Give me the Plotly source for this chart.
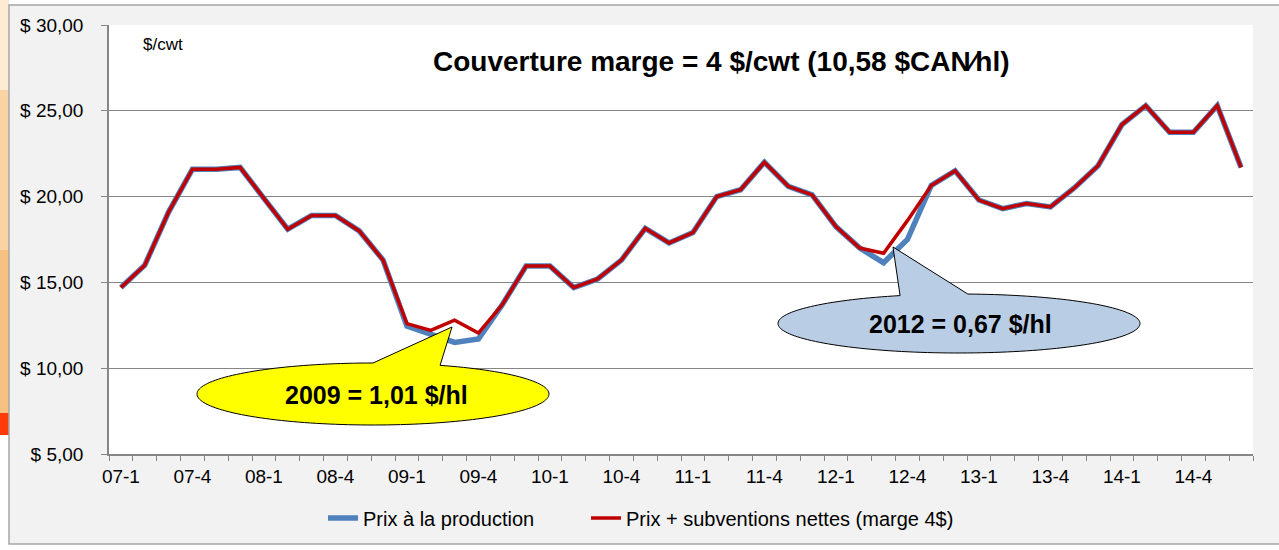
import numpy as np
import plotly.graph_objects as go

# ---------------- data ----------------
categories = [
    "07-1", "07-2", "07-3", "07-4", "07-5", "07-6",
    "08-1", "08-2", "08-3", "08-4", "08-5", "08-6",
    "09-1", "09-2", "09-3", "09-4", "09-5", "09-6",
    "10-1", "10-2", "10-3", "10-4", "10-5", "10-6",
    "11-1", "11-2", "11-3", "11-4", "11-5", "11-6",
    "12-1", "12-2", "12-3", "12-4", "12-5", "12-6",
    "13-1", "13-2", "13-3", "13-4", "13-5", "13-6",
    "14-1", "14-2", "14-3", "14-4", "14-5", "14-6",
]
prix_production = [
    14.7, 16.0, 19.1, 21.6, 21.6, 21.7,
    19.9, 18.1, 18.9, 18.9, 18.0, 16.3,
    12.45, 11.95, 11.5, 11.7, 13.7, 15.95,
    15.95, 14.7, 15.2, 16.3, 18.15, 17.3,
    17.9, 20.0, 20.4, 22.0, 20.6, 20.1,
    18.25, 17.0, 16.15, 17.5, 20.65, 21.5,
    19.8, 19.3, 19.6, 19.4, 20.5, 21.8,
    24.2, 25.3, 23.75, 23.75, 25.3, 21.7,
]
prix_subventions = [
    14.7, 16.0, 19.1, 21.6, 21.6, 21.7,
    19.9, 18.1, 18.9, 18.9, 18.0, 16.3,
    12.6, 12.2, 12.8, 12.05, 13.7, 15.95,
    15.95, 14.7, 15.2, 16.3, 18.15, 17.3,
    17.9, 20.0, 20.4, 22.0, 20.6, 20.1,
    18.25, 17.0, 16.7, 18.6, 20.65, 21.5,
    19.8, 19.3, 19.6, 19.4, 20.5, 21.8,
    24.2, 25.3, 23.75, 23.75, 25.3, 21.7,
]
series_names = ["Prix à la production", "Prix + subventions nettes (marge 4$)"]
y_tick_values = [5, 10, 15, 20, 25, 30]
y_tick_labels = ["$ 5,00", "$ 10,00", "$ 15,00", "$ 20,00", "$ 25,00", "$ 30,00"]
x_tick_labels = [c if i % 3 == 0 else "" for i, c in enumerate(categories)]
title_text = "Couverture marge = 4 $/cwt (10,58 $CAN\u2044hl)"
unit_text = "$/cwt"
callout_2009 = "2009 = 1,01 $/hl"
callout_2012 = "2012 = 0,67 $/hl"

# ---------------- layout helpers ----------------
FONT = "Liberation Sans, Arial, sans-serif"
W, H = 1279, 550
L, R, T, B = 109, 26, 25, 96
PW = W - L - R
PH = H - T - B


def xp(px):
    return (px - L) / PW


def yp(py):
    return (H - B - py) / PH


def callout_path(cx, cy, rx, ry, th1, th2, tip, n=160):
    angles = np.linspace(th2, th1 + 360, n)
    pts = [(cx + rx * np.cos(np.radians(a)), cy + ry * np.sin(np.radians(a))) for a in angles]
    pts.append(tip)
    return "M " + " L ".join(f"{xp(x):.5f},{yp(y):.5f}" for x, y in pts) + " Z"


GRAY = "#868686"

fig = go.Figure()
fig.add_trace(go.Scatter(
    x=categories, y=prix_production, name=series_names[0], mode="lines",
    line=dict(color="#4F81BD", width=5.5), legend="legend",
))
fig.add_trace(go.Scatter(
    x=categories, y=prix_subventions, name=series_names[1], mode="lines",
    line=dict(color="#C00000", width=3.5), legend="legend2",
))

shapes = [
    # slide background strip on the left
    dict(type="rect", xref="paper", yref="paper", x0=xp(0), x1=xp(9), y0=yp(0), y1=yp(90),
         fillcolor="#FDEBD3", line=dict(width=0), layer="below"),
    dict(type="rect", xref="paper", yref="paper", x0=xp(0), x1=xp(9), y0=yp(90), y1=yp(250),
         fillcolor="#F9D3A3", line=dict(width=0), layer="below"),
    dict(type="rect", xref="paper", yref="paper", x0=xp(0), x1=xp(9), y0=yp(250), y1=yp(413),
         fillcolor="#F6C282", line=dict(width=0), layer="below"),
    dict(type="rect", xref="paper", yref="paper", x0=xp(0), x1=xp(9), y0=yp(413), y1=yp(435),
         fillcolor="#FF3B0A", line=dict(width=0), layer="below"),
    # chart frame
    dict(type="rect", xref="paper", yref="paper", x0=xp(9), x1=xp(1290), y0=yp(5), y1=yp(544),
         fillcolor="#F2F2F2", line=dict(color="#A6A6A6", width=1.5), layer="below"),
    # plot area
    dict(type="rect", xref="paper", yref="paper", x0=0, x1=1, y0=0, y1=1,
         fillcolor="#FFFFFF", line=dict(width=0), layer="below"),
    # callouts
    dict(type="path", xref="paper", yref="paper",
         path=callout_path(373, 394, 176, 31, -90, -67.6, (452, 327)),
         fillcolor="#FFFF00", line=dict(color="#000000", width=1)),
    dict(type="path", xref="paper", yref="paper",
         path=callout_path(959, 323.5, 181, 29.5, -109, -87.2, (893, 247)),
         fillcolor="#B9CDE5", line=dict(color="#000000", width=1)),
]

annotations = [
    dict(text=f"<b>{title_text}</b>", xref="paper", yref="paper", x=xp(721), y=yp(61),
         xanchor="center", yanchor="middle", showarrow=False,
         font=dict(family=FONT, size=28, color="#000000")),
    dict(text=unit_text, xref="paper", yref="paper", x=xp(141), y=yp(44),
         xanchor="left", yanchor="middle", showarrow=False,
         font=dict(family=FONT, size=17, color="#000000")),
    dict(text=f"<b>{callout_2009}</b>", xref="paper", yref="paper", x=xp(376), y=yp(395),
         xanchor="center", yanchor="middle", showarrow=False,
         font=dict(family=FONT, size=25, color="#000000")),
    dict(text=f"<b>{callout_2012}</b>", xref="paper", yref="paper", x=xp(960), y=yp(324),
         xanchor="center", yanchor="middle", showarrow=False,
         font=dict(family=FONT, size=25, color="#000000")),
]

legend_style = dict(orientation="h", yanchor="middle", y=yp(518), xanchor="left",
                    bgcolor="rgba(0,0,0,0)", borderwidth=0,
                    font=dict(family=FONT, size=20, color="#000000"))

fig.update_layout(
    template="none",
    width=W, height=H,
    margin=dict(l=L, r=R, t=T, b=B, pad=0),
    paper_bgcolor="#FFFFFF",
    plot_bgcolor="#FFFFFF",
    font=dict(family=FONT, size=19, color="#000000"),
    showlegend=True,
    legend=dict(legend_style, x=xp(323)),
    legend2=dict(legend_style, x=xp(586)),
    shapes=shapes,
    annotations=annotations,
    xaxis=dict(
        type="category", range=[-0.5, len(categories) - 0.5],
        tickmode="array", tickvals=categories, ticktext=x_tick_labels, tickangle=0,
        tickson="boundaries", ticks="outside", ticklen=5, tickcolor=GRAY, tickwidth=1,
        showline=True, linecolor=GRAY, linewidth=1.5, showgrid=False, zeroline=False,
        tickfont=dict(family=FONT, size=19), ticklabelstandoff=4, automargin=False,
    ),
    yaxis=dict(
        range=[5, 30], tickmode="array", tickvals=y_tick_values, ticktext=y_tick_labels,
        ticks="outside", ticklen=6, tickcolor=GRAY, tickwidth=1,
        showline=True, linecolor=GRAY, linewidth=1.5,
        showgrid=True, gridcolor=GRAY, gridwidth=1, zeroline=False,
        tickfont=dict(family=FONT, size=19), ticklabelstandoff=14, automargin=False,
    ),
)

fig.write_html("out.html", config={"displayModeBar": False},
               post_script="document.body.style.margin='0';")
